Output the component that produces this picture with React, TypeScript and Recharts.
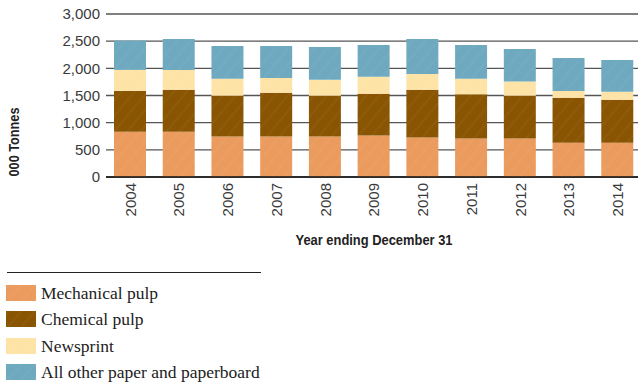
import React from "react";
import { BarChart, Bar, XAxis, YAxis, CartesianGrid } from "recharts";

// Production by year, thousands of tonnes
const years = ["2004", "2005", "2006", "2007", "2008", "2009", "2010", "2011", "2012", "2013", "2014"];
const mechanicalPulp = [832, 832, 746, 746, 746, 765, 728, 709, 709, 630, 630];
const chemicalPulp = [753, 772, 748, 803, 748, 766, 876, 816, 785, 827, 790];
const newsprint = [386, 367, 312, 275, 294, 312, 294, 281, 262, 128, 147];
const otherPaper = [539, 570, 606, 588, 606, 588, 643, 625, 601, 607, 588];
const yTicks = [0, 500, 1000, 1500, 2000, 2500, 3000];

const series = [
  { key: "mechanical", name: "Mechanical pulp", color: "#EA9B5D" },
  { key: "chemical", name: "Chemical pulp", color: "#8A5503" },
  { key: "newsprint", name: "Newsprint", color: "#FEE3A6" },
  { key: "other", name: "All other paper and paperboard", color: "#6EA9BF" },
];

const data = years.map((year, i) => ({
  year,
  mechanical: mechanicalPulp[i],
  chemical: chemicalPulp[i],
  newsprint: newsprint[i],
  other: otherPaper[i],
}));

const sans = "'Liberation Sans', Arial, sans-serif";
const narrow = "'Liberation Sans Narrow', 'Arial Narrow', 'Liberation Sans', sans-serif";

const fmt = (v: number) => v.toLocaleString("en-US");

const YearTick = (props: any) => {
  const { x, y, payload } = props;
  return (
    <text
      x={x}
      y={y}
      dy="0.36em"
      transform={`rotate(-90 ${x} ${y})`}
      textAnchor="end"
      fontFamily={sans}
      fontSize={15}
      fill="#3a3a3a"
    >
      {payload.value}
    </text>
  );
};

// axis titles are set in a condensed bold face; textLength keeps them narrow
const YTitle = () => (
  <text
    x={14}
    y={142}
    transform="rotate(-90 14 142)"
    textAnchor="middle"
    dominantBaseline="central"
    fontFamily={narrow}
    fontWeight="bold"
    fontSize={14}
    textLength={69}
    lengthAdjust="spacingAndGlyphs"
    fill="#222"
  >
    000 Tonnes
  </text>
);

const XTitle = () => (
  <text
    x={374}
    y={240}
    textAnchor="middle"
    dominantBaseline="central"
    fontFamily={narrow}
    fontWeight="bold"
    fontSize={14.5}
    textLength={157}
    lengthAdjust="spacingAndGlyphs"
    fill="#222"
  >
    Year ending December 31
  </text>
);

// very faint diagonal strokes over each fill
const Texture = ({ id, color }: { id: string; color: string }) => (
  <pattern id={id} patternUnits="userSpaceOnUse" width={10} height={10} patternTransform="rotate(40)">
    <rect width={10} height={10} fill={color} />
    <line x1={2} y1={0} x2={2} y2={10} stroke="#fff" strokeOpacity={0.035} strokeWidth={2} />
  </pattern>
);

export default function App() {
  return (
    <div
      style={{
        position: "fixed",
        left: 0,
        top: 0,
        width: 638,
        height: 384,
        overflow: "hidden",
        background: "#fff",
      }}
    >
      <div style={{ position: "absolute", left: 0, top: 0 }}>
        <BarChart
          width={650}
          height={250}
          data={data}
          margin={{ top: 14, right: 8, bottom: 0, left: 0 }}
        >
          <defs>
            {series.map((s) => (
              <Texture key={s.key} id={`tex-${s.key}`} color={s.color} />
            ))}
          </defs>
          <CartesianGrid vertical={false} stroke="#555" strokeWidth={1.3} />
          <XAxis
            dataKey="year"
            height={73}
            tickLine={false}
            tickSize={0}
            tickMargin={6}
            axisLine={{ stroke: "#111", strokeWidth: 1.5 }}
            tick={<YearTick />}
            interval={0}
            label={<XTitle />}
          />
          <YAxis
            width={106}
            domain={[0, 3000]}
            ticks={yTicks}
            tickFormatter={fmt}
            axisLine={false}
            tickLine={false}
            tickSize={0}
            tickMargin={6}
            tick={{ fontFamily: sans, fontSize: 15, fill: "#3a3a3a" }}
            label={<YTitle />}
          />
          {series.map((s) => (
            <Bar
              key={s.key}
              dataKey={s.key}
              name={s.name}
              stackId="total"
              barSize={32}
              fill={`url(#tex-${s.key})`}
              isAnimationActive={false}
            />
          ))}
        </BarChart>
      </div>

      <div
        style={{
          position: "absolute",
          left: 7,
          top: 272,
          width: 254,
          borderTop: "1.5px solid #222",
        }}
      />
      <div style={{ position: "absolute", left: 6, top: 285 }}>
        {series.map((s) => (
          <div key={s.key} style={{ display: "flex", height: 26.3 }}>
            <svg width={30} height={16}>
              <rect width={30} height={16} fill={`url(#tex-${s.key})`} />
            </svg>
            <span
              style={{
                marginLeft: 5,
                fontFamily: "'Liberation Serif', 'Times New Roman', serif",
                fontSize: 17.5,
                color: "#222",
                lineHeight: "17px",
                whiteSpace: "nowrap",
              }}
            >
              {s.name}
            </span>
          </div>
        ))}
      </div>
    </div>
  );
}
